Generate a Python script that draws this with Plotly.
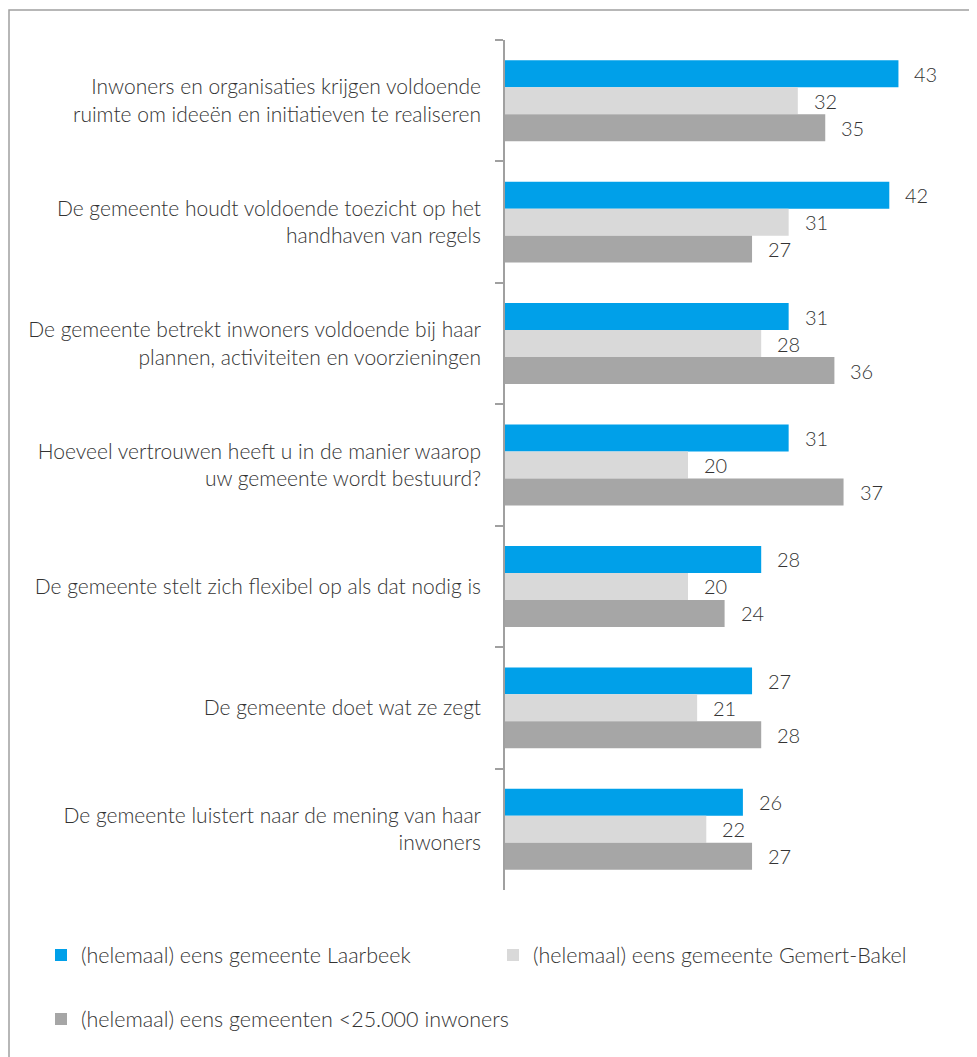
import plotly.graph_objects as go

categories = [
    "Inwoners en organisaties krijgen voldoende<br>ruimte om ideeën en initiatieven te realiseren",
    "De gemeente houdt voldoende toezicht op het<br>handhaven van regels",
    "De gemeente betrekt inwoners voldoende bij haar<br>plannen, activiteiten en voorzieningen",
    "Hoeveel vertrouwen heeft u in de manier waarop<br>uw gemeente wordt bestuurd?",
    "De gemeente stelt zich flexibel op als dat nodig is",
    "De gemeente doet wat ze zegt",
    "De gemeente luistert naar de mening van haar<br>inwoners",
]
series_names = [
    "(helemaal) eens gemeente Laarbeek",
    "(helemaal) eens gemeente Gemert-Bakel",
    "(helemaal) eens gemeenten <25.000 inwoners",
]
laarbeek = [43, 42, 31, 31, 28, 27, 26]
gemert_bakel = [32, 31, 28, 20, 20, 21, 22]
gemeenten_klein = [35, 27, 36, 37, 24, 28, 27]

colors = ["#00A0E9", "#D9D9D9", "#A6A6A6"]
values = [laarbeek, gemert_bakel, gemeenten_klein]
legends = ["legend", "legend2", "legend3"]

FONT = "Lato"
TXT = "#333333"

# page offset of 8px (body margin) is compensated
W, H = 969, 1049
ml, mr, mt, mb = 497, 17, 32, 167
pw = W - ml - mr
ph = H - mt - mb
xmax = pw / 9.15

fig = go.Figure()
for name, vals, col, lg in zip(series_names, values, colors, legends):
    fig.add_trace(go.Bar(
        y=categories, x=vals, name=name, orientation="h",
        marker=dict(color=col, line=dict(width=0)),
        legend=lg,
    ))

# value labels
gap = 0.3333
bw = (1 - gap) / 3
annotations = []
for k, vals in enumerate(values):
    off = (k - 1) * bw
    for i, v in enumerate(vals):
        annotations.append(dict(
            x=v, y=i + off, xref="x", yref="y", text=str(v),
            showarrow=False, xanchor="left", yanchor="middle", xshift=14,
            font=dict(family=FONT, size=20, color=TXT, weight=300),
        ))

def px_x(p):
    return (p - ml) / pw

def px_y(p):
    return (H - mb - p) / ph

shapes = [dict(
    type="rect", xref="paper", yref="paper",
    x0=px_x(1), x1=px_x(1100), y0=px_y(2), y1=px_y(1200),
    line=dict(color="#A0A0A0", width=1.5), fillcolor="rgba(0,0,0,0)",
    layer="below",
)]

legfont = dict(family=FONT, size=21.5, color=TXT, weight=300)
def leg(xp, yp):
    return dict(
        orientation="h", x=px_x(xp), y=px_y(yp), xanchor="left", yanchor="middle",
        xref="paper", yref="paper", font=legfont, bgcolor="rgba(0,0,0,0)",
    )

fig.update_layout(
    width=W, height=H,
    margin=dict(l=ml, r=mr, t=mt, b=mb),
    paper_bgcolor="white", plot_bgcolor="white",
    barmode="group", bargap=gap, bargroupgap=0,
    font=dict(family=FONT, size=18, color=TXT),
    xaxis=dict(range=[0, xmax], visible=False, showgrid=False, zeroline=False),
    yaxis=dict(
        autorange="reversed", showline=True, linecolor="#A0A0A0", linewidth=1.5,
        ticks="outside", tickson="boundaries", ticklen=8, tickcolor="#A0A0A0",
        tickwidth=1.5, showgrid=False, ticklabelstandoff=18,
        tickfont=dict(family=FONT, size=21, color=TXT, weight=300),
    ),
    legend=leg(33, 947),
    legend2=leg(485, 947),
    legend3=leg(33, 1011),
    annotations=annotations,
    shapes=shapes,
    showlegend=True,
)

fig.write_html("out.html")
